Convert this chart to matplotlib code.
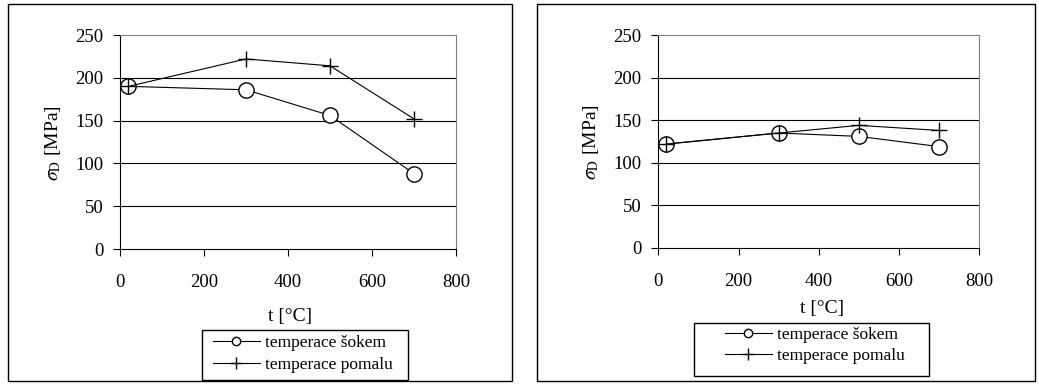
import matplotlib
matplotlib.use("Agg")
import matplotlib.pyplot as plt
from matplotlib.patches import Rectangle

plt.rcParams['font.family'] = ['Liberation Serif', 'DejaVu Serif']
plt.rcParams['mathtext.fontset'] = 'stix'

t = [20, 300, 500, 700]
left_sokem = [190, 186, 156, 88]
left_pomalu = [190, 222, 214, 152]
right_sokem = [122, 135, 131, 119]
right_pomalu = [122, 135, 144, 138]
xticks = [0, 200, 400, 600, 800]
yticks = [0, 50, 100, 150, 200, 250]
label_sokem = 'temperace šokem'
label_pomalu = 'temperace pomalu'
xlabel = 't [°C]'
ylabel = r'$\sigma_{\mathrm{D}}$ [MPa]'

W, H = 1039, 385
fig = plt.figure(figsize=(W / 100, H / 100), dpi=100)

def frect(x0, y0, x1, y1, lw=1.0):
    fig.patches.append(Rectangle((x0 / W, (H - y1) / H), (x1 - x0) / W, (y1 - y0) / H,
                                 transform=fig.transFigure, fill=False,
                                 edgecolor='black', linewidth=lw))

# outer panel frames
frect(8, 4, 512, 381)
frect(537, 4, 1035, 381)

panels = [
    dict(rect=[120 / W, (H - 249) / H, 336 / W, 214 / H],
         s=left_sokem, p=left_pomalu,
         xl=(0.506, -0.276), yl=(-0.17, 0.495),
         box=(202, 330, 408, 380), leg=(213 / W, (H - 354) / H)),
    dict(rect=[658.3 / W, (H - 247.7) / H, 321 / W, 212.4 / H],
         s=right_sokem, p=right_pomalu,
         xl=(0.509, -0.246), yl=(-0.18, 0.495),
         box=(694, 323, 929, 376), leg=(725 / W, (H - 345.5) / H)),
]

for pn in panels:
    ax = fig.add_axes(pn['rect'])
    ax.set_xlim(0, 800)
    ax.set_ylim(0, 250)
    ax.set_xticks(xticks)
    ax.set_yticks(yticks)
    for y in yticks[1:-1]:
        ax.axhline(y, color='black', linewidth=0.8, zorder=1)
    for side in ['top', 'right']:
        ax.spines[side].set_color('#808080')
        ax.spines[side].set_linewidth(0.8)
    for side in ['left', 'bottom']:
        ax.spines[side].set_color('black')
        ax.spines[side].set_linewidth(0.8)
    ax.tick_params(axis='both', direction='out', length=5, width=0.8, labelsize=13.5)
    ax.tick_params(axis='y', pad=7)
    ax.tick_params(axis='x', pad=13)
    ax.plot(t, pn['s'], color='black', linewidth=0.8, marker='o', markersize=11,
            markerfacecolor='white', markeredgecolor='black', markeredgewidth=1.0,
            label=label_sokem, zorder=3)
    ax.plot(t, pn['p'], color='black', linewidth=0.8, marker='+', markersize=12,
            markeredgewidth=1.0, label=label_pomalu, zorder=4)
    ax.set_xlabel(xlabel, fontsize=14)
    ax.xaxis.set_label_coords(*pn['xl'])
    ax.set_ylabel(ylabel, fontsize=14)
    ax.yaxis.set_label_coords(*pn['yl'])
    frect(*pn['box'], lw=1.0)
    fig.legend(handles=[
        plt.Line2D([], [], color='black', linewidth=0.8, marker='o', markersize=6,
                   markerfacecolor='white', markeredgecolor='black'),
        plt.Line2D([], [], color='black', linewidth=0.8, marker='+', markersize=8)],
        labels=[label_sokem, label_pomalu], loc='center left', bbox_to_anchor=pn['leg'],
        bbox_transform=fig.transFigure, fontsize=12.5, frameon=False,
        handlelength=2.7, handletextpad=0.3,
        borderpad=0, labelspacing=0.3, borderaxespad=0)

fig.savefig('out.png', dpi=100)
